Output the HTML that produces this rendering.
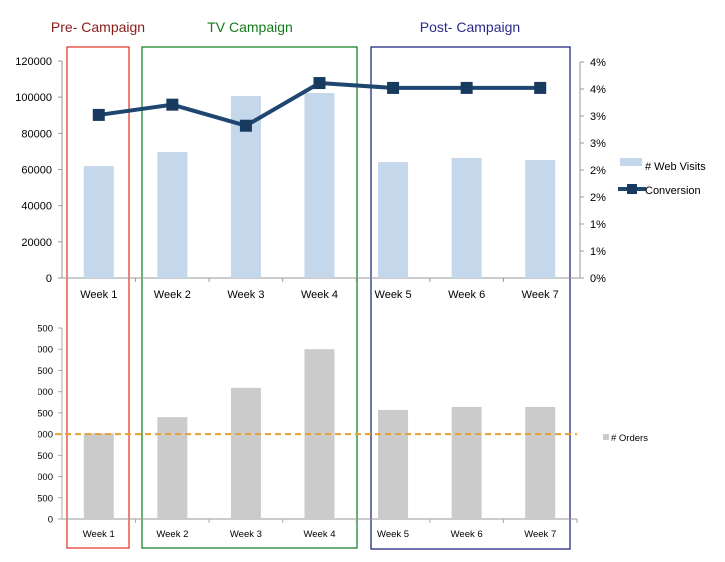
<!DOCTYPE html>
<html><head><meta charset="utf-8"><style>
html,body{margin:0;padding:0;background:#fff;width:725px;height:562px;overflow:hidden}
svg{display:block;font-family:"Liberation Sans",sans-serif}
</style></head><body>
<svg id="c" width="725" height="562">
<defs><clipPath id="clipL"><rect x="38" y="0" width="700" height="562"/></clipPath></defs>
</svg>
<script>
const weeks=["Week 1","Week 2","Week 3","Week 4","Week 5","Week 6","Week 7"];
const webVisits=[61900,69700,100600,102300,64100,66400,65300];
const conversion=[3.02,3.21,2.82,3.61,3.52,3.52,3.52];
const orders=[2020,2400,3090,4000,2570,2640,2640];
const target=2000;
const leftTicks=[0,20000,40000,60000,80000,100000,120000];
const rightTicks=[0,0.5,1,1.5,2,2.5,3,3.5,4];
const ordTicks=[0,500,1000,1500,2000,2500,3000,3500,4000,4500];

const svg=document.getElementById('c');
const NS='http://www.w3.org/2000/svg';
function mk(tag,a,parent){const e=document.createElementNS(NS,tag);for(const k in a)e.setAttribute(k,a[k]);(parent||svg).appendChild(e);return e;}
function txt(s,a,parent){const e=mk('text',a,parent);e.textContent=s;return e;}

const x0=62,x1=577,step=(x1-x0)/7;
const xc=i=>x0+step*(i+0.5);
const yL=v=>278-v/120000*217;
const yR=v=>278-v/4*216;
const yB=v=>519-v/4500*191;

const b1=mk('rect',{x:67,y:47,width:62,height:501,fill:'none',stroke:'#e0301e','stroke-width':1.2});

const b2=mk('rect',{x:142,y:47,width:215,height:501,fill:'none',stroke:'#0a7a1a','stroke-width':1.2});

const b3=mk('rect',{x:371,y:47,width:199,height:502,fill:'none',stroke:'#101878','stroke-width':1.2});

const t1=txt('Pre- Campaign',{x:98,y:32,'text-anchor':'middle','font-size':14,fill:'#8b1a1a'});

const t2=txt('TV Campaign',{x:250,y:32,'text-anchor':'middle','font-size':14,fill:'#127a1a'});

const t3=txt('Post- Campaign',{x:470,y:32,'text-anchor':'middle','font-size':14,fill:'#2a2a8a'});


mk('line',{x1:x0,y1:61,x2:x0,y2:278,stroke:'#999'});
mk('line',{x1:x0-4,y1:278,x2:x1+3,y2:278,stroke:'#999'});
mk('line',{x1:580,y1:62,x2:580,y2:278,stroke:'#999'});
leftTicks.forEach(v=>{const y=yL(v);mk('line',{x1:x0-4,y1:y,x2:x0,y2:y,stroke:'#999'});
 const t=txt(v,{x:52,y:y+4,'text-anchor':'end','font-size':11,fill:'#000'});
 });
rightTicks.forEach(v=>{const y=yR(v);mk('line',{x1:580,y1:y,x2:584,y2:y,stroke:'#999'});
 const t=txt(Math.round(v)+'%',{x:590,y:y+4,'font-size':11,fill:'#000'});
 });
for(let i=1;i<7;i++){mk('line',{x1:x0+step*i,y1:278,x2:x0+step*i,y2:282,stroke:'#999'});}
weeks.forEach((w,i)=>{
 const r=mk('rect',{x:xc(i)-15,y:yL(webVisits[i]),width:30,height:278-yL(webVisits[i]),fill:'#c5d7ea'});
 
 const t=txt(w,{x:xc(i),y:298,'text-anchor':'middle','font-size':11,fill:'#000'});
 
});
const pl=mk('polyline',{points:conversion.map((v,i)=>xc(i)+','+yR(v)).join(' '),fill:'none',stroke:'#1e4670','stroke-width':4});

conversion.forEach((v,i)=>{const m=mk('rect',{x:xc(i)-6,y:yR(v)-6,width:12,height:12,fill:'#173a5e'});
 });
const lg1=mk('rect',{x:620,y:158,width:22,height:8,fill:'#c5d7ea'});

const lt1=txt('# Web Visits',{x:645,y:170,'font-size':11,fill:'#000'});

mk('line',{x1:618,y1:189,x2:646,y2:189,stroke:'#1e4670','stroke-width':4});
mk('rect',{x:627,y:184,width:10,height:10,fill:'#173a5e'});
const lt2=txt('Conversion',{x:645,y:194,'font-size':11,fill:'#000'});


const g=mk('g',{'clip-path':'url(#clipL)'});
mk('line',{x1:x0,y1:328,x2:x0,y2:519,stroke:'#aaa'});
mk('line',{x1:x0-4,y1:519,x2:x1,y2:519,stroke:'#999'});
ordTicks.forEach(v=>{const y=yB(v);mk('line',{x1:x0-4,y1:y,x2:x0,y2:y,stroke:'#aaa'});
 const t=txt(v,{x:53,y:y+3.5,'text-anchor':'end','font-size':9.5,fill:'#000'},g);
 });
for(let i=1;i<=7;i++){mk('line',{x1:x0+step*i,y1:519,x2:x0+step*i,y2:523,stroke:'#aaa'});}
weeks.forEach((w,i)=>{
 const r=mk('rect',{x:xc(i)-15,y:yB(orders[i]),width:30,height:519-yB(orders[i]),fill:'#cbcbcb'});
 
 const t=txt(w,{x:xc(i),y:537,'text-anchor':'middle','font-size':9.5,fill:'#000'});
 
});
const tl=mk('line',{x1:55,y1:yB(target),x2:577,y2:yB(target),stroke:'#e8a030','stroke-width':2,'stroke-dasharray':'6,4'});

const lg3=mk('rect',{x:603,y:434,width:6,height:6,fill:'#cbcbcb'});

const lt3=txt('# Orders',{x:611,y:441,'font-size':9.5,fill:'#000'});

</script>
</body></html>
